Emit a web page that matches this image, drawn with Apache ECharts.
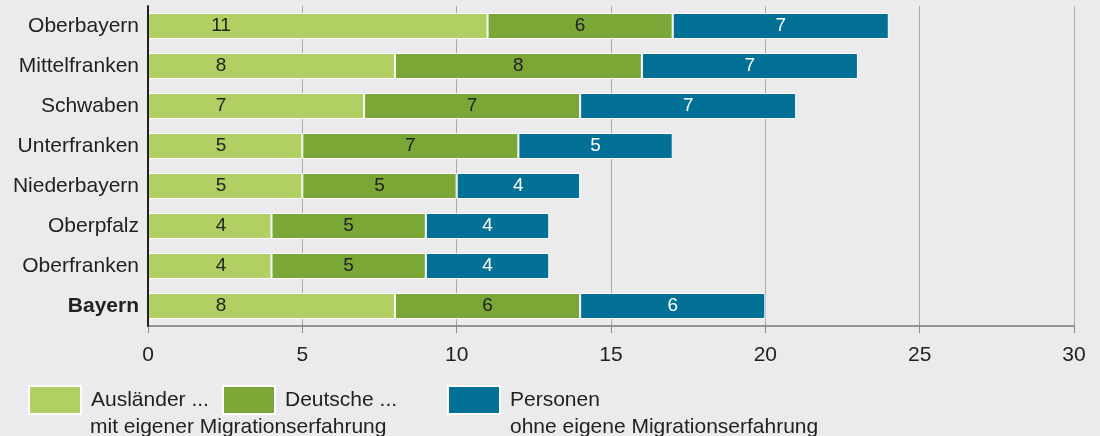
<!DOCTYPE html>
<html>
<head>
<meta charset="utf-8">
<script src="https://cdn.jsdelivr.net/npm/echarts@6/dist/echarts.min.js"></script>
<style>
  html, body { margin: 0; padding: 0; background: #ebebed; }
  #main { width: 1100px; height: 436px; }
</style>
</head>
<body>
<div id="main"></div>
<script>
// Regionen (von oben nach unten)
var categories = ['Oberbayern', 'Mittelfranken', 'Schwaben', 'Unterfranken',
    'Niederbayern', 'Oberpfalz', 'Oberfranken', 'Bayern'];
var auslaender = [11, 8, 7, 5, 5, 4, 4, 8];
var deutsche = [6, 8, 7, 7, 5, 5, 5, 6];
var ohneMigration = [7, 7, 7, 5, 4, 4, 4, 6];
var xTicks = [0, 5, 10, 15, 20, 25, 30];

var font = '"Liberation Sans", Arial, sans-serif';
var colors = ['#b2cf64', '#7ba736', '#037096'];

var myChart = echarts.init(document.getElementById('main'));

function seg(name, data, color, labelColor, pos) {
    return {
        name: name,
        type: 'bar',
        stack: 'total',
        data: data,
        barWidth: 26,
        itemStyle: { color: color, borderColor: '#ffffff', borderWidth: 1 },
        label: {
            show: true,
            position: pos,
            align: 'center',
            verticalAlign: 'middle',
            color: labelColor,
            fontFamily: font,
            fontSize: 19
        },
        emphasis: { disabled: true },
        animation: false
    };
}

function legendBox(name, left) {
    return {
        data: [name],
        left: left - 5,
        top: 380,
        orient: 'horizontal',
        itemWidth: 52,
        itemHeight: 28,
        icon: 'rect',
        selectedMode: false,
        textStyle: { fontFamily: font, fontSize: 21, color: '#222', padding: [0, 0, 0, 5] }
    };
}

var option = {
    backgroundColor: '#ebebed',
    animation: false,
    grid: { left: 148, right: 26, top: 6, bottom: 110 },
    legend: [
        legendBox('Ausländer ...', 28),
        legendBox('Deutsche ...', 222),
        legendBox('Personen', 447)
    ],
    graphic: [
        { type: 'text', left: 90, top: 417, style: { text: 'mit eigener Migrationserfahrung', font: '21px ' + font, fill: '#222' } },
        { type: 'text', left: 510, top: 417, style: { text: 'ohne eigene Migrationserfahrung', font: '21px ' + font, fill: '#222' } }
    ],
    xAxis: {
        type: 'value',
        min: xTicks[0],
        max: xTicks[xTicks.length - 1],
        interval: 5,
        axisLine: { show: true, lineStyle: { color: '#777', width: 1.5 } },
        axisTick: { show: true, length: 7, lineStyle: { color: '#888', width: 1 } },
        axisLabel: { fontFamily: font, fontSize: 21, color: '#222', margin: 19 },
        splitLine: { show: true, lineStyle: { color: '#aaa', width: 1 } }
    },
    yAxis: {
        type: 'category',
        data: categories,
        inverse: true,
        z: 5,
        axisLine: { show: true, lineStyle: { color: '#222', width: 2 } },
        axisTick: { show: false },
        axisLabel: {
            fontFamily: font,
            fontSize: 21,
            color: '#222',
            margin: 9,
            formatter: function (v) {
                return v === 'Bayern' ? '{b|' + v + '}' : v;
            },
            rich: { b: { fontWeight: 'bold', fontFamily: font, fontSize: 21, color: '#222' } }
        }
    },
    series: [
        seg('Ausländer ...', auslaender, colors[0], '#222', [73, '50%']),
        seg('Deutsche ...', deutsche, colors[1], '#222', 'inside'),
        seg('Personen', ohneMigration, colors[2], '#ffffff', 'inside')
    ]
};

myChart.setOption(option);
</script>
</body>
</html>
